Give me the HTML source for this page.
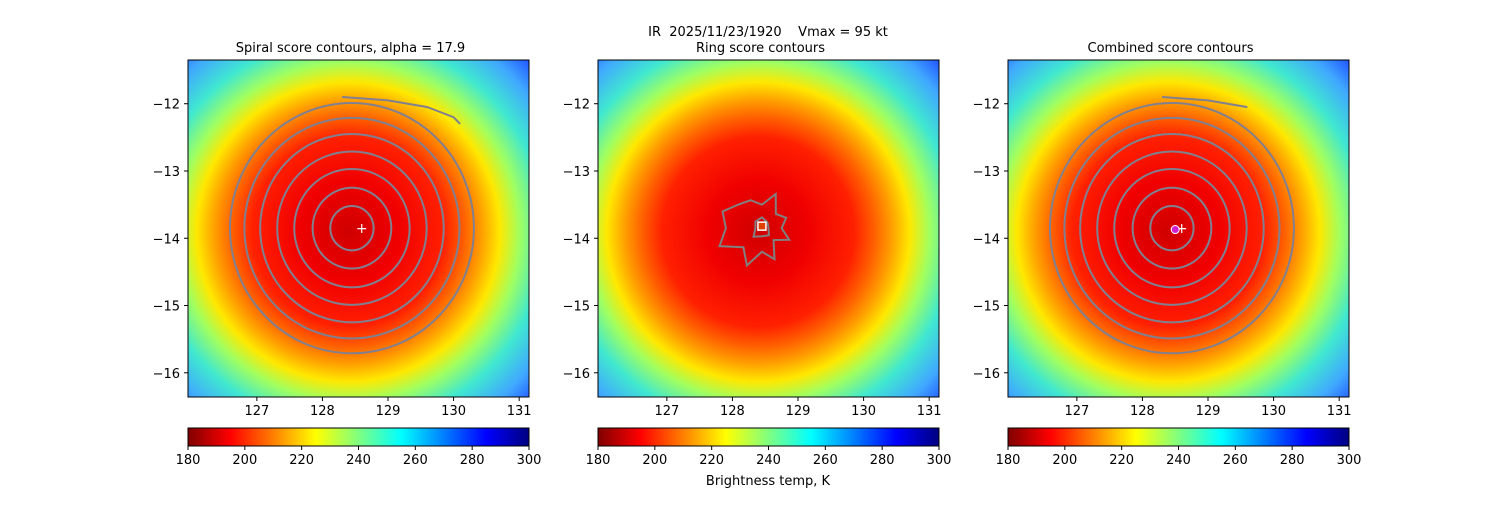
<!DOCTYPE html>
<html><head><meta charset="utf-8"><style>
body{margin:0;background:#fff;width:1500px;height:500px;overflow:hidden}
svg{font-family:"DejaVu Sans","Liberation Sans",sans-serif}
</style></head><body>
<svg id="fig" width="1500" height="500" xmlns="http://www.w3.org/2000/svg">
<defs>
<radialGradient id="bt" cx="0.47" cy="0.51" r="0.74">
<stop offset="0" stop-color="#d00000"/>
<stop offset="0.2" stop-color="#f00000"/>
<stop offset="0.38" stop-color="#ff2000"/>
<stop offset="0.46" stop-color="#ff6000"/>
<stop offset="0.53" stop-color="#ffa000"/>
<stop offset="0.6" stop-color="#ffe800"/>
<stop offset="0.68" stop-color="#a0ff60"/>
<stop offset="0.78" stop-color="#40e8d0"/>
<stop offset="0.9" stop-color="#40a8ff"/>
<stop offset="1" stop-color="#2050ff"/>
</radialGradient>
<linearGradient id="jet" x1="0" x2="1" y1="0" y2="0">
<stop offset="0" stop-color="#800000"/>
<stop offset="0.125" stop-color="#ff0000"/>
<stop offset="0.375" stop-color="#ffff00"/>
<stop offset="0.625" stop-color="#00ffff"/>
<stop offset="0.875" stop-color="#0000ff"/>
<stop offset="1" stop-color="#000080"/>
</linearGradient>
</defs>
<text x="768" y="36" text-anchor="middle" font-size="13" style="white-space:pre">IR  2025/11/23/1920    Vmax = 95 kt</text>
</svg>
<script>
const xTicks=[127,128,129,130,131];
const yTicks=[-12,-13,-14,-15,-16];
const cbTicks=[180,200,220,240,260,280,300];
const titles=["Spiral score contours, alpha = 17.9","Ring score contours","Combined score contours"];
const panelLeft=[188,598,1008];
const spiralRadii=[0.33,0.6,0.88,1.14,1.4,1.64,1.86];
const spiralCenter=[128.45,-13.85];
const arcLon=[127.05,127.6,128.3,129.0,129.6,130.0,130.1];
const arcLat=[-11.9,-11.9,-11.9,-11.95,-12.05,-12.2,-12.3];
const ringR=[0.3,0.45,0.25,0.5,0.35,0.6,0.4,0.7,0.55,0.65,0.5,0.45,0.35,0.55,0.3,0.4];
const ringR2=[0.1,0.15,0.12,0.18,0.1,0.14,0.16,0.12];
const ringCenter=[128.45,-13.85];
const W=341,H=337,TOP=60,X0=125.95,X1=131.15,Y0=-11.35,Y1=-16.36;
const NS="http://www.w3.org/2000/svg";
const svg=document.getElementById('fig');
function el(t,a,p){const e=document.createElementNS(NS,t);for(const k in a)e.setAttribute(k,a[k]);(p||svg).appendChild(e);return e;}
function sx(L,v){return L+(v-X0)/(X1-X0)*W;}
function sy(v){return TOP+(v-Y0)/(Y1-Y0)*H;}
function cbx(L,v){return L+(v-180)/120*W;}
panelLeft.forEach((L,i)=>{
 const g=el('g',{});
 
 
 const bg=el('rect',{x:L,y:TOP,width:W,height:H,fill:'url(#bt)'},g);
 
 
 const t=el('text',{x:L+W/2-8,y:52,'text-anchor':'middle','font-size':'13'},g);t.textContent=titles[i];
 
 
 const cx=sx(L,spiralCenter[0]),cy=sy(spiralCenter[1]);
 if(i!==1){
  spiralRadii.forEach(r=>{
   const c=el('ellipse',{cx:cx,cy:cy,rx:r*W/(X1-X0),ry:r*H/(Y0-Y1),fill:'none',stroke:'#808090','stroke-width':2},g);
   
   
  });
  const pts=arcLon.map((v,k)=>sx(L,v)+','+sy(arcLat[k])).slice(2,i==0?7:5).join(' ');
  const pl=el('polyline',{points:pts,fill:'none',stroke:'#808090','stroke-width':2},g);
  
  
  const m=el('text',{x:sx(L,128.6),y:sy(-13.85)+5,'text-anchor':'middle','font-size':'14',fill:'#fff'},g);m.textContent='+';
  
  
  if(i==2){const d=el('circle',{cx:sx(L,128.5),cy:sy(-13.87),r:4,fill:'#d020d0',stroke:'#fff'},g);
   
   }
 } else {
  const rcx=sx(L,ringCenter[0]),rcy=sy(ringCenter[1]);
  [ringR,ringR2].forEach(arr=>{
   const pts=arr.map((r,k)=>{const a=k/arr.length*2*Math.PI;return (rcx+r*W/(X1-X0)*Math.cos(a))+','+(rcy+r*H/(Y0-Y1)*Math.sin(a));}).join(' ');
   const p=el('polygon',{points:pts,fill:'none',stroke:'#808080','stroke-width':2},g);
   
   
  });
  const s=el('rect',{x:sx(L,128.45)-4,y:sy(-13.82)-4,width:8,height:8,fill:'#e04000',stroke:'#fff','stroke-width':1.5},g);
  
  
 }
 el('rect',{x:L,y:TOP,width:W,height:H,fill:'none',stroke:'#000','stroke-width':1},g);
 xTicks.forEach(v=>{const x=sx(L,v);el('line',{x1:x,x2:x,y1:TOP+H,y2:TOP+H+4,stroke:'#000'},g);
  const tt=el('text',{x:x,y:TOP+H+18,'text-anchor':'middle','font-size':'13'},g);tt.textContent=v;
  
  });
 yTicks.forEach(v=>{const y=sy(v);el('line',{x1:L-4,x2:L,y1:y,y2:y,stroke:'#000'},g);
  const tt=el('text',{x:L-8,y:y+5,'text-anchor':'end','font-size':'13'},g);tt.textContent='\u2212'+Math.abs(v);
  
  });
 const cb=el('rect',{x:L,y:428,width:W,height:18,fill:'url(#jet)',stroke:'#000','stroke-width':1},g);
 
 
 cbTicks.forEach(v=>{const x=cbx(L,v);el('line',{x1:x,x2:x,y1:446,y2:450,stroke:'#000'},g);
  const tt=el('text',{x:x,y:464,'text-anchor':'middle','font-size':'13'},g);tt.textContent=v;
  
  });
});
const lab=el('text',{x:768,y:485,'text-anchor':'middle','font-size':'13'});lab.textContent='Brightness temp, K';


</script>
</body></html>
